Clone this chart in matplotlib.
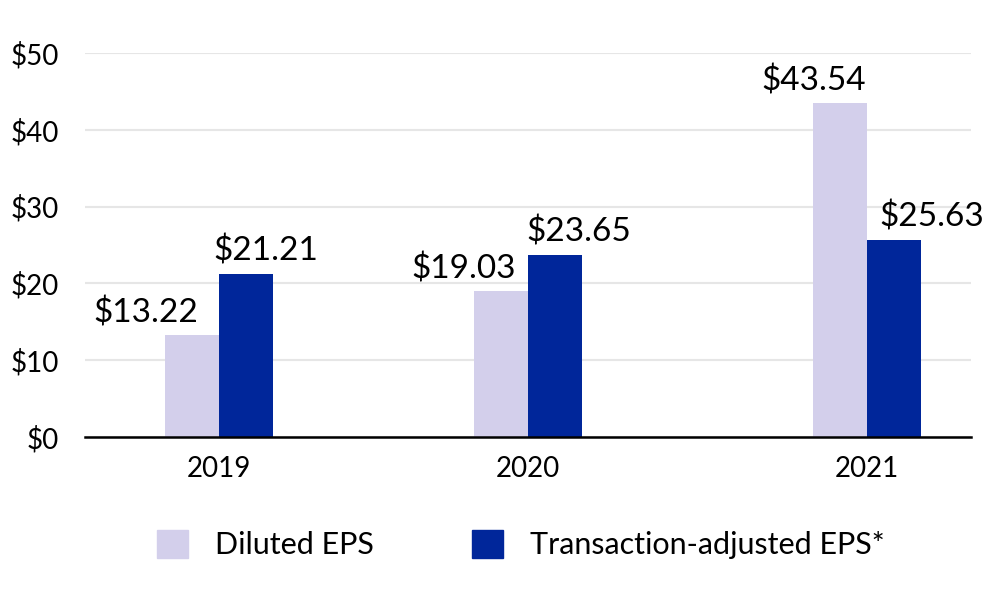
import matplotlib.pyplot as plt
from matplotlib.patches import Patch

years = ["2019", "2020", "2021"]
diluted = [13.22, 19.03, 43.54]
adjusted = [21.21, 23.65, 25.63]
y_ticks = [0, 10, 20, 30, 40, 50]

# category centres (the 2021 group sits a bit further right in the original)
pos = [0, 1, 2.097]
w = 0.176
light = "#D3CFEB"
dark = "#00269A"

plt.rcParams['font.family'] = ['Lato', 'DejaVu Sans']

fig = plt.figure(figsize=(10, 6), dpi=100)
ax = fig.add_axes([0.085, 0.2717, 0.886, 0.64])

ax.bar([p - w / 2 for p in pos], diluted, width=w, color=light, zorder=3)
ax.bar([p + w / 2 for p in pos], adjusted, width=w, color=dark, zorder=3)

# label offsets in points
off_l = [-33, -27, -19]
off_d = [14, 17, 27]
for i, p in enumerate(pos):
    ax.annotate("${:.2f}".format(diluted[i]), (p - w / 2, diluted[i]),
                xytext=(off_l[i], 9), textcoords='offset points',
                ha='center', va='baseline', fontsize=24, color='black')
    ax.annotate("${:.2f}".format(adjusted[i]), (p + w / 2, adjusted[i]),
                xytext=(off_d[i], 10), textcoords='offset points',
                ha='center', va='baseline', fontsize=24, color='black')

ax.set_xlim(-0.434, 2.434)
ax.set_ylim(0, 50)
ax.set_yticks(y_ticks)
ax.set_yticklabels(["${}".format(t) for t in y_ticks], fontsize=20)
ax.set_xticks(pos)
ax.set_xticklabels(years, fontsize=20)
ax.tick_params(length=0, labelcolor='black')
ax.tick_params(axis='x', pad=14)
ax.tick_params(axis='y', pad=19)

ax.grid(axis='y', color='#E6E6E6', linewidth=1.5, zorder=0)
for s in ['top', 'right', 'left']:
    ax.spines[s].set_visible(False)
ax.spines['bottom'].set_linewidth(1.8)
ax.spines['bottom'].set_zorder(4)

handles = [Patch(color=light, label="Diluted EPS"),
           Patch(color=dark, label="Transaction-adjusted EPS*")]
fig.legend(handles=handles, loc='center', bbox_to_anchor=(0.521, 0.092), ncol=2,
           frameon=False, fontsize=22, handlelength=1.0, handleheight=1.0,
           handletextpad=0.9, columnspacing=3.2)

fig.savefig("out.png", dpi=100)
